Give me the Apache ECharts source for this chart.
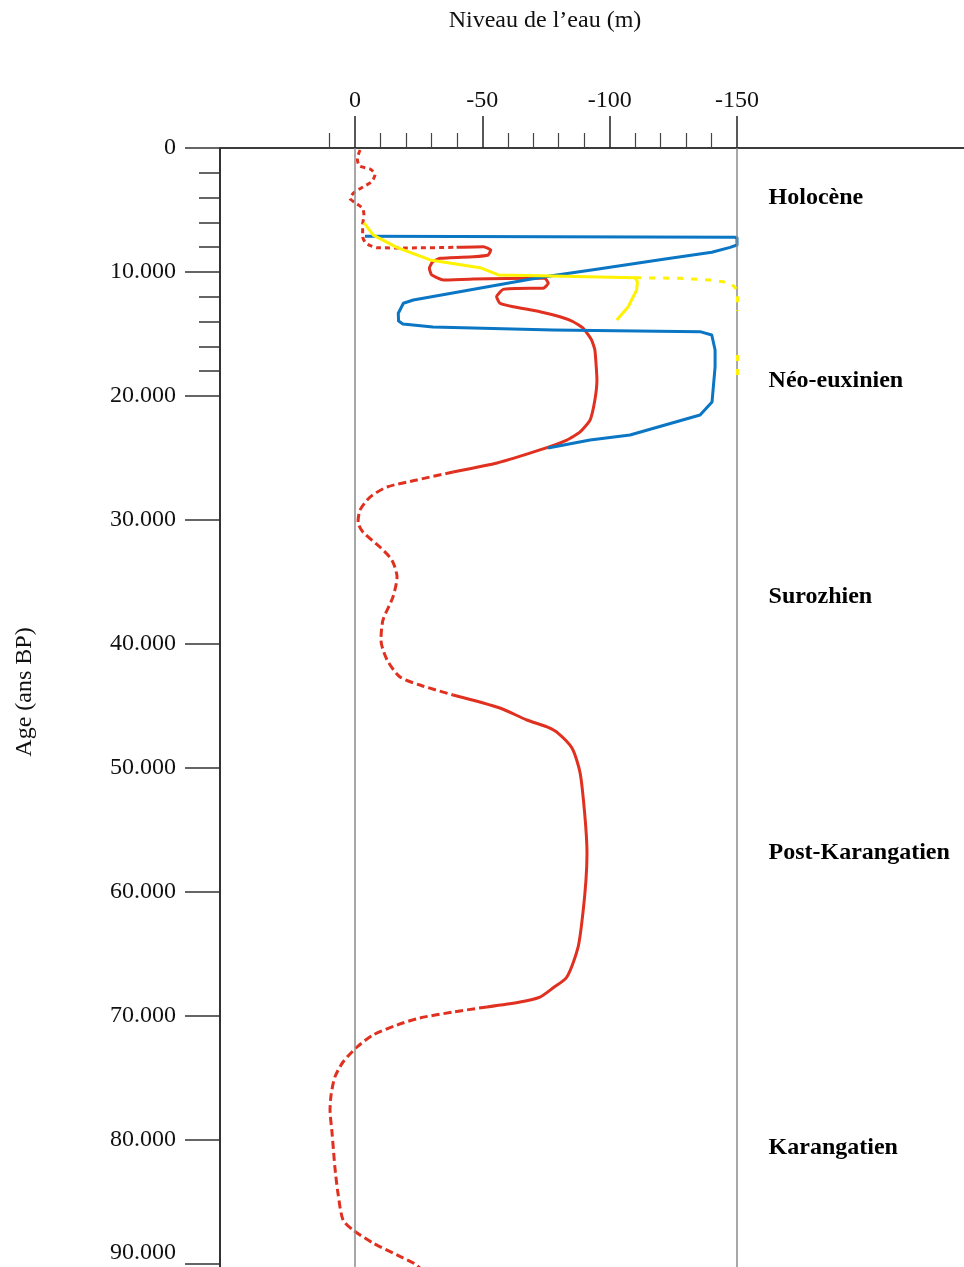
<!DOCTYPE html>
<html>
<head>
<meta charset="utf-8">
<script src="https://cdn.jsdelivr.net/npm/echarts@6/dist/echarts.min.js"></script>
<style>
  html, body { margin: 0; padding: 0; background: #ffffff; }
  #chart { width: 964px; height: 1267px; }
</style>
</head>
<body>
<div id="chart"></div>
<script>
// Water level (m, negative = below present) against age (years BP)
// Each point is [level, age].

// Red curve, split into its dashed and solid stretches
const redDashedTop = [
  [-2, 160], [-0.9, 830], [-1.7, 1450], [-5.9, 1690], [-7.9, 2120], [-6.6, 2720],
  [-3.3, 3120], [0.4, 3600], [2.0, 4060], [0, 4410], [-3.0, 4860], [-3.5, 5400],
  [-3.0, 6210], [-3.0, 7150], [-4.3, 7690], [-8.5, 8040], [-20.3, 8060], [-39.9, 8010]
];
const redSolid1 = [
  [-39.9, 8010], [-50.4, 7960], [-53.3, 8230], [-52.3, 8630], [-46.5, 8770], [-33.4, 8900],
  [-30.5, 9170], [-29.2, 9700], [-30.1, 10240], [-34.7, 10650], [-46.5, 10560], [-72.6, 10510],
  [-74.6, 10510], [-75.9, 10910], [-73.9, 11310], [-68.7, 11310], [-58.2, 11400], [-55.6, 11990],
  [-56.9, 12520], [-62.2, 12800], [-72.6, 13200], [-80.5, 13610], [-85.7, 14010], [-89.6, 14540],
  [-92.9, 15480], [-94.2, 16290], [-95.0, 18710], [-94.2, 20320], [-92.3, 21940], [-88.4, 22900],
  [-83.2, 23550], [-72.6, 24350], [-55.8, 25400], [-38.5, 26130]
];
const redDashed1 = [
  [-38.5, 26130], [-24.3, 26770], [-12.6, 27340], [-5.9, 28150], [-2.0, 29190], [-1.2, 30160],
  [-3.1, 30970], [-9.8, 32180], [-14.5, 33230], [-16.5, 34600], [-14.9, 36210], [-11.0, 38060],
  [-10.2, 39680], [-12.6, 41290], [-17.7, 42660], [-25.5, 43310], [-38.5, 44110]
];
const redSolid2 = [
  [-38.5, 44110], [-56.9, 45160], [-67.5, 46130], [-75.4, 46690], [-79.7, 47180], [-85.2, 48390],
  [-88.4, 50400], [-90.3, 53950], [-91.1, 56850], [-90.7, 59030], [-89.5, 61690], [-87.6, 64440],
  [-83.2, 66850], [-77.7, 67740], [-72.6, 68470], [-64.8, 68870], [-51.8, 69270]
];
const redDashed2 = [
  [-51.8, 69270], [-38.5, 69680], [-25.5, 70160], [-16.5, 70730], [-7.1, 71530], [-0.8, 72500],
  [4.7, 73710], [7.9, 74920], [9.4, 76370], [9.8, 77580], [9.0, 79440], [7.9, 82180],
  [6.7, 84270], [4.7, 86450], [0.8, 87260], [-7.1, 88310], [-16.5, 89270], [-23.6, 90000],
  [-26.3, 90480]
];

// Blue curve
const blueCurve = [
  [-3.9, 7120], [-149.2, 7200], [-150, 7260], [-150, 7820], [-147.3, 8010], [-140.1, 8410],
  [-121.1, 8980], [-94.9, 9780], [-76.6, 10320], [-68.7, 10590], [-22.9, 12260], [-19.0, 12520],
  [-17.0, 13330], [-17.1, 13950], [-18.8, 14190], [-30.6, 14440], [-77.7, 14680], [-135.5, 14810],
  [-140.1, 15080], [-141.4, 16290], [-141.4, 17660], [-140.2, 20480], [-135.5, 21530],
  [-108.0, 23150], [-92.3, 23550], [-75.8, 24190]
];

// Yellow curve: solid stretch and dashed continuation
const yellowSolid = [
  [-3.5, 6020], [-7.2, 7020], [-16.4, 8010], [-29.5, 9030], [-49.1, 9650], [-56.3, 10240],
  [-72.6, 10300], [-110.0, 10460], [-110.9, 10780], [-110.6, 11450], [-107.3, 12800], [-102.8, 13870]
];
const yellowDashed = [
  [-110.0, 10460], [-127.6, 10510], [-139.4, 10650], [-147.3, 10860], [-150.2, 11450], [-150.2, 13150],
  null,
  [-150.2, 16690], [-150.2, 18470]
];

// Stage names and the ages where they are written
const stageNames = ['Holocène', 'Néo-euxinien', 'Surozhien', 'Post-Karangatien', 'Karangatien'];
const stageAges = [4030, 18790, 36210, 56850, 80650];

// Tick values
const levelMajorTicks = [0, -50, -100, -150];
const levelMinorTicks = [10, -10, -20, -30, -40, -60, -70, -80, -90, -110, -120, -130, -140];
const ageMajorTicks = [0, 10000, 20000, 30000, 40000, 50000, 60000, 70000, 80000, 90000];
const ageMinorTicks = [2000, 4000, 6000, 8000, 12000, 14000, 16000, 18000];

// Axis extents
const LEVEL_LEFT = 53.01;     // value at the left edge of the plot
const LEVEL_RIGHT = -239.14;  // value at the right edge of the plot
const AGE_MAX = 90242;
const STAGE_LEVEL = -162.2;   // level where the stage names start

const SERIF = '"Liberation Serif", "DejaVu Serif", serif';
const RED = '#e0301f';
const BLUE = '#0a76c4';
const YELLOW = '#fff200';

// "10.000" style age labels; the last one sits at the foot of the page,
// so it is lifted to stay fully readable.
function ageLabel(v) {
  const txt = v === 0 ? '0' : (v / 1000) + '.000';
  return v === ageMajorTicks[ageMajorTicks.length - 1] ? '{foot|' + txt + '}' : txt;
}

const chart = echarts.init(document.getElementById('chart'), null, { renderer: 'canvas' });

function lineSeries(data, color, dashed, z, smooth) {
  return {
    type: 'line',
    data: data,
    xAxisIndex: 0,
    yAxisIndex: 0,
    showSymbol: false,
    symbol: 'none',
    connectNulls: false,
    smooth: smooth || false,
    clip: true,
    z: z,
    lineStyle: {
      color: color,
      width: 3,
      type: dashed ? dashed : 'solid',
      cap: 'butt',
      join: 'round'
    },
    silent: true,
    animation: false
  };
}

const option = {
  animation: false,
  backgroundColor: '#ffffff',
  grid: {
    left: 220, top: 148, right: 0, bottom: 0,
    containLabel: false,
    outerBoundsMode: 'none'
  },
  xAxis: [
    {
      type: 'value',
      position: 'top',
      inverse: true,
      min: LEVEL_RIGHT,
      max: LEVEL_LEFT,
      axisLine: { show: true, onZero: false, lineStyle: { color: '#3c3c3c', width: 2 } },
      axisTick: { show: true, length: 32, customValues: levelMajorTicks, lineStyle: { color: '#222', width: 1.5 } },
      axisLabel: { show: true, customValues: levelMajorTicks, margin: 35, fontFamily: SERIF, fontSize: 24, color: '#111' },
      splitLine: { show: false }
    },
    {
      type: 'value',
      position: 'top',
      inverse: true,
      min: LEVEL_RIGHT,
      max: LEVEL_LEFT,
      axisLine: { show: false, onZero: false },
      axisTick: { show: true, length: 15, customValues: levelMinorTicks, lineStyle: { color: '#444', width: 1.2 } },
      axisLabel: { show: false },
      splitLine: { show: false }
    }
  ],
  yAxis: [
    {
      type: 'value',
      position: 'left',
      inverse: true,
      min: 0,
      max: AGE_MAX,
      axisLine: { show: true, onZero: false, lineStyle: { color: '#333', width: 2 } },
      axisTick: { show: true, length: 35, customValues: ageMajorTicks, lineStyle: { color: '#333', width: 1.5 } },
      axisLabel: {
        show: true, customValues: ageMajorTicks, margin: 44, formatter: ageLabel,
        fontFamily: SERIF, fontSize: 24, color: '#111',
        rich: { foot: { fontFamily: SERIF, fontSize: 24, color: '#111', padding: [0, 0, 22, 0] } }
      },
      splitLine: { show: false }
    },
    {
      type: 'value',
      position: 'left',
      inverse: true,
      min: 0,
      max: AGE_MAX,
      axisLine: { show: false, onZero: false },
      axisTick: { show: true, length: 21, customValues: ageMinorTicks, lineStyle: { color: '#333', width: 1.5 } },
      axisLabel: { show: false },
      splitLine: { show: false }
    }
  ],
  graphic: [
    {
      type: 'text',
      x: 545, y: 21,
      style: { text: 'Niveau de l’eau (m)', font: '24px ' + SERIF, fill: '#111', align: 'center', verticalAlign: 'middle' }
    },
    {
      type: 'text',
      x: 25, y: 692,
      rotation: Math.PI / 2,
      style: { text: 'Age (ans BP)', font: '24px ' + SERIF, fill: '#111', align: 'center', verticalAlign: 'middle' }
    }
  ],
  series: [
    {
      type: 'line',
      data: [],
      xAxisIndex: 0,
      yAxisIndex: 0,
      z: 1,
      markLine: {
        silent: true,
        symbol: ['none', 'none'],
        animation: false,
        label: { show: false },
        lineStyle: { color: '#8a8a8a', width: 1.5, type: 'solid' },
        data: [{ xAxis: 0 }, { xAxis: -150 }]
      }
    },
    lineSeries(redDashedTop, RED, [5, 4], 3, 0.2),
    lineSeries(redSolid1, RED, null, 3, 0.15),
    lineSeries(redDashed1, RED, [8, 4], 3, 0.25),
    lineSeries(redSolid2, RED, null, 3, 0.25),
    lineSeries(redDashed2, RED, [8, 4], 3, 0.25),
    lineSeries(blueCurve, BLUE, null, 4),
    lineSeries(yellowSolid, YELLOW, null, 5),
    lineSeries(yellowDashed, YELLOW, [6, 8], 5),
    {
      type: 'scatter',
      xAxisIndex: 0,
      yAxisIndex: 0,
      symbolSize: 1,
      itemStyle: { color: '#ffffff', opacity: 1 },
      silent: true,
      z: 6,
      data: stageNames.map((n, i) => [STAGE_LEVEL, stageAges[i], n]),
      label: {
        show: true,
        position: 'right',
        distance: 0,
        formatter: p => p.data[2],
        fontFamily: SERIF,
        fontSize: 24,
        fontWeight: 'bold',
        color: '#000',
        opacity: 1
      }
    }
  ]
};

chart.setOption(option);
</script>
</body>
</html>
